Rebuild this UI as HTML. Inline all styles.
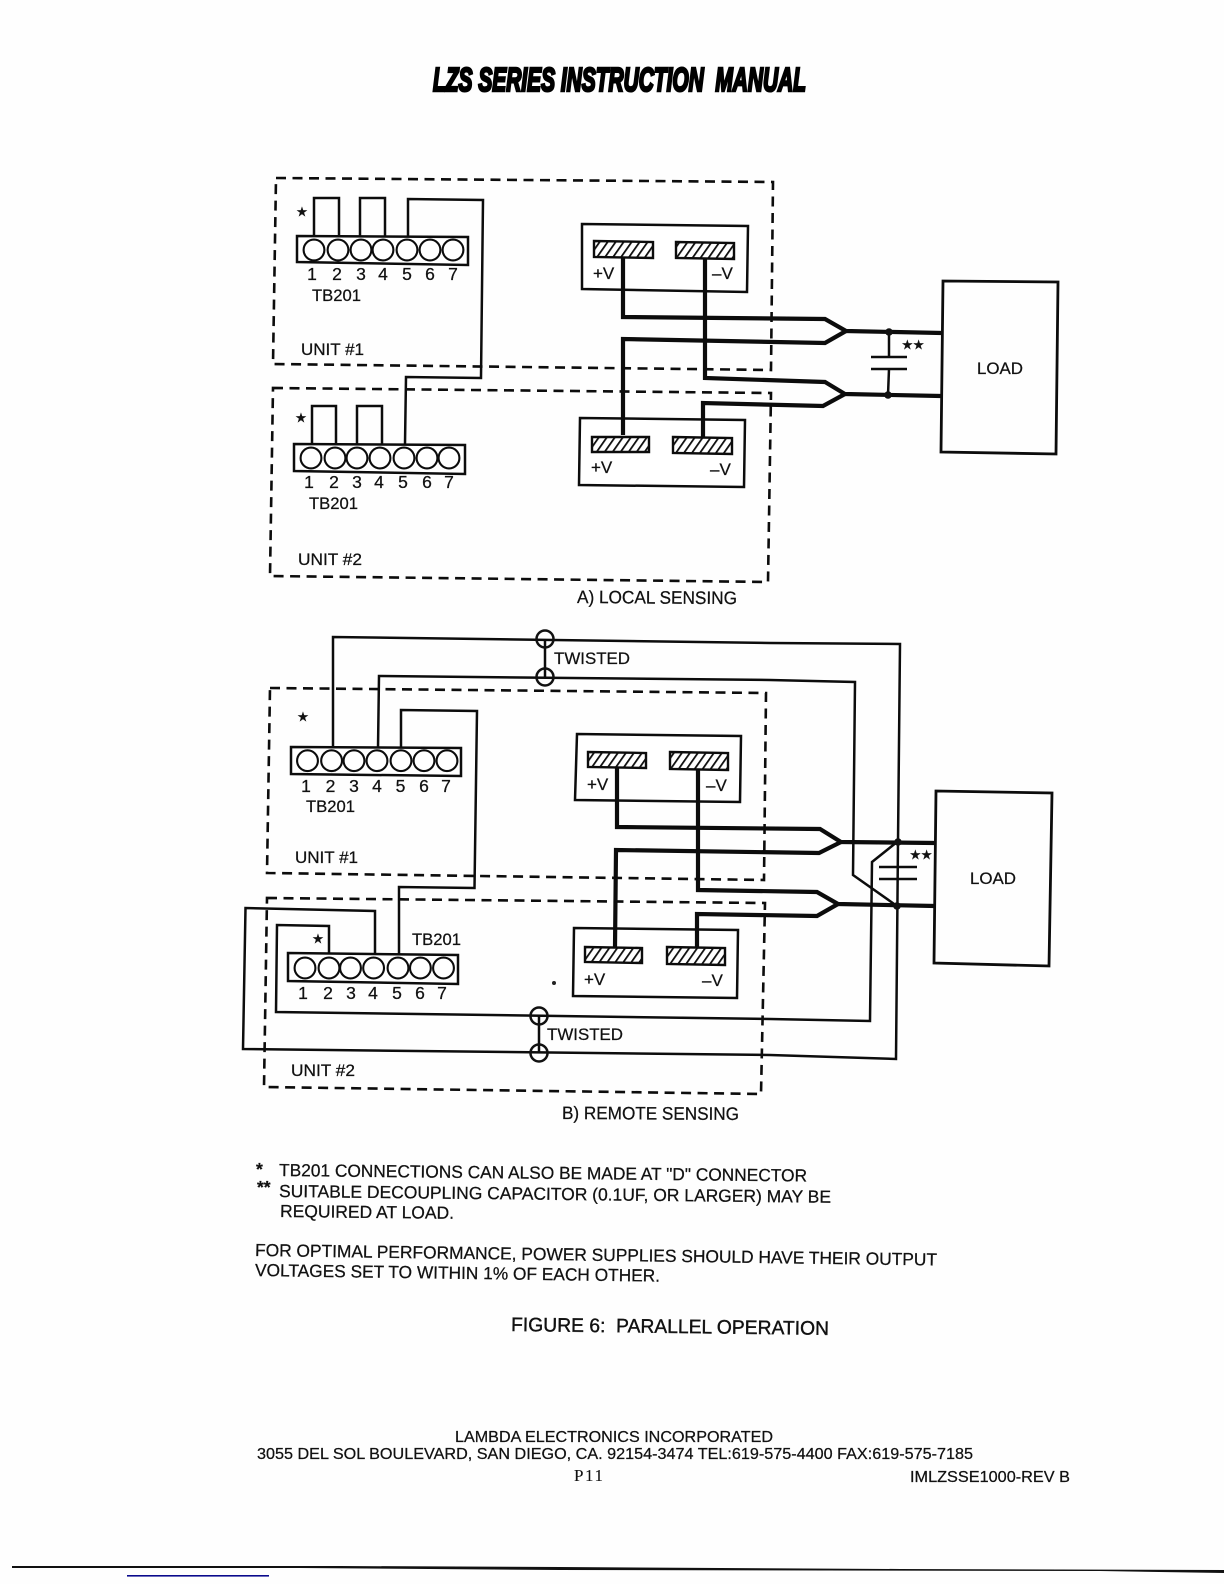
<!DOCTYPE html>
<html><head><meta charset="utf-8"><style>
html,body{margin:0;padding:0;background:#fff}
svg{display:block}
text{font-family:"Liberation Sans",sans-serif;fill:#111;stroke:#111;stroke-width:.25}
.w{fill:none;stroke:#0c0c0c;stroke-width:2.5;stroke-linejoin:miter}
.t{fill:none;stroke:#0c0c0c;stroke-width:4.2;stroke-linejoin:miter}
.d{fill:none;stroke:#0c0c0c;stroke-width:2.6;stroke-dasharray:10 6.5}
.b{fill:#fff;stroke:#0c0c0c;stroke-width:2.5}
.c{fill:#fff;stroke:#0c0c0c;stroke-width:2.1}
.h{fill:url(#hat);stroke:#0c0c0c;stroke-width:2.4}
.l{font-size:17px}
.n{font-size:17.5px;text-anchor:middle}
.s{font-size:17.5px}
.f{font-size:16px}
.st{font-family:"DejaVu Sans",sans-serif;font-size:12.5px;text-anchor:middle;stroke-width:.4}
</style></head><body>
<svg width="1224" height="1584" viewBox="0 0 1224 1584" xmlns="http://www.w3.org/2000/svg">
<defs><pattern id="hat" patternUnits="userSpaceOnUse" width="8" height="8" patternTransform="skewX(-35)"><rect width="8" height="8" fill="#fff"/><rect width="2.2" height="8" fill="#111"/></pattern></defs>
<rect width="1224" height="1584" fill="#fefefe"/>

<text x="433" y="91" font-size="33" font-weight="bold" font-style="italic" textLength="373" lengthAdjust="spacingAndGlyphs" style="fill:#000;stroke:#000;stroke-width:2.6" xml:space="preserve">LZS SERIES INSTRUCTION  MANUAL</text>

<!-- A: boxes -->
<polygon class="b" points="582,224 748,226 747,292 582,289"/>
<polygon class="b" points="580,418 745,420 744,487 579,485"/>
<polygon class="h" points="594,241 653,242 653,258 594,257"/>
<polygon class="h" points="676,242 734,243 734,259 676,258"/>
<polygon class="h" points="592,437 649,437 649,452 592,452"/>
<polygon class="h" points="673,437 732,438 732,454 673,453"/>
<polygon class="d" points="276,178 773,182 771,370 273,364"/>
<polygon class="d" points="273,388 771,393 768,582 270,576"/>

<polygon class="b" points="297,236 468,237 468,265 297,262"/>
<polygon class="b" points="294,444 465,445 465,474 294,471"/>
<g class="c"><circle cx="314" cy="250" r="10.4"/><circle cx="338" cy="250" r="10.4"/><circle cx="361" cy="250" r="10.4"/><circle cx="383" cy="250" r="10.4"/><circle cx="407" cy="250" r="10.4"/><circle cx="430" cy="250" r="10.4"/><circle cx="453" cy="250" r="10.4"/></g>
<g class="c"><circle cx="311" cy="458" r="10.4"/><circle cx="335" cy="458" r="10.4"/><circle cx="357" cy="458" r="10.4"/><circle cx="380" cy="458" r="10.4"/><circle cx="404" cy="458" r="10.4"/><circle cx="427" cy="458" r="10.4"/><circle cx="449" cy="458" r="10.4"/></g>
<polyline class="w" points="314,236 314,198 339,198 339,236"/>
<polyline class="w" points="360,236 360,198 385,198 385,236"/>
<polyline class="w" points="408,236 408,199 483,200 481,378 406,377 405,444"/>
<polyline class="w" points="312,444 312,406 336,406 336,444"/>
<polyline class="w" points="357,444 357,406 382,406 382,444"/>

<!-- A: thick -->
<polyline class="t" points="623,258 623,317 825,319 846,331 942,333"/>
<polyline class="t" points="623,435 623,339 825,343 846,331"/>
<polyline class="t" points="705,258 705,378 825,382 845,394 941,396"/>
<polyline class="t" points="703,437 703,403 823,406 845,394"/>
<polyline class="w" points="889,332 889,357"/><polyline class="w" points="889,369 888,395"/>
<line class="w" x1="871" y1="357" x2="907" y2="357"/><line class="w" x1="871" y1="369" x2="907" y2="369"/>
<circle cx="889" cy="332" r="3.8" fill="#111"/><circle cx="888" cy="395" r="3.8" fill="#111"/>
<polygon class="b" style="fill:none;stroke-width:2.8" points="943,281 1058,282 1056,454 941,452"/>

<!-- A: text -->
<text class="n" x="312" y="280">1</text><text class="n" x="337" y="280">2</text><text class="n" x="361" y="280">3</text><text class="n" x="383" y="280">4</text><text class="n" x="407" y="280">5</text><text class="n" x="430" y="280">6</text><text class="n" x="453" y="280">7</text>
<text class="n" x="309" y="488">1</text><text class="n" x="334" y="488">2</text><text class="n" x="357" y="488">3</text><text class="n" x="379" y="488">4</text><text class="n" x="403" y="488">5</text><text class="n" x="427" y="488">6</text><text class="n" x="449" y="488">7</text>
<text class="l" x="312" y="301" textLength="49" lengthAdjust="spacingAndGlyphs">TB201</text><text class="l" x="309" y="509" textLength="49" lengthAdjust="spacingAndGlyphs">TB201</text>
<text class="l" x="301" y="355" textLength="63" lengthAdjust="spacingAndGlyphs">UNIT #1</text><text class="l" x="298" y="565" textLength="64" lengthAdjust="spacingAndGlyphs">UNIT #2</text>
<text class="st" x="302" y="216">★</text><text class="st" x="301" y="422">★</text>
<text class="l" x="593" y="279">+V</text><text class="l" x="712" y="279">–V</text>
<text class="l" x="591" y="473">+V</text><text class="l" x="710" y="475">–V</text>
<text class="st" x="913" y="349" xml:space="preserve">★★</text>
<text class="l" x="977" y="374" textLength="46" lengthAdjust="spacingAndGlyphs">LOAD</text>
<text x="577" y="603" font-size="18" textLength="160" lengthAdjust="spacingAndGlyphs" transform="rotate(0.4 577 603)">A) LOCAL SENSING</text>

<!-- B: boxes -->
<polygon class="b" points="577,734 741,736 740,802 575,800"/>
<polygon class="b" points="574,928 738,930 737,998 573,996"/>
<polygon class="h" points="588,752 646,753 646,768 588,767"/>
<polygon class="h" points="670,752 728,753 728,770 670,769"/>
<polygon class="h" points="585,947 642,948 642,963 585,962"/>
<polygon class="h" points="667,947 725,948 725,965 667,964"/>
<polygon class="d" points="270,688 766,693 764,880 267,873"/>
<polygon class="d" points="267,898 765,903 761,1094 264,1087"/>
<polygon class="b" points="291,747 461,748 461,776 291,774"/>
<polygon class="b" points="288,953 458,955 458,984 288,981"/>
<g class="c"><circle cx="307.5" cy="760.7" r="10.4"/><circle cx="331.6" cy="760.7" r="10.4"/><circle cx="354" cy="760.7" r="10.4"/><circle cx="377" cy="760.7" r="10.4"/><circle cx="401" cy="760.7" r="10.4"/><circle cx="424" cy="760.7" r="10.4"/><circle cx="447" cy="760.7" r="10.4"/></g>
<g class="c"><circle cx="305" cy="968" r="10.4"/><circle cx="329" cy="968" r="10.4"/><circle cx="350.5" cy="968" r="10.4"/><circle cx="373.6" cy="968" r="10.4"/><circle cx="398" cy="968" r="10.4"/><circle cx="420.4" cy="968" r="10.4"/><circle cx="443.5" cy="968" r="10.4"/></g>
<polyline class="w" points="333,746 333,637 770,643 900,644 898,842 896,1059 770,1055 243,1049 245.5,908 375,911 375,953"/>
<polyline class="w" points="378,748 379,676 770,680 855,682 853,875 897,906"/>
<polyline class="w" points="897,842 872,862 870,1021 770,1019 276,1012 277,925 329,926 329,953"/>
<polyline class="w" points="401,747 401,710 477,711 474.5,888 399,887 399,954"/>
<line class="w" x1="545" y1="639" x2="545" y2="677"/><line class="w" x1="539" y1="1016" x2="539" y2="1053"/>
<g fill="none" stroke="#111" stroke-width="2.5"><circle cx="545" cy="639" r="8.5"/><circle cx="545" cy="677" r="8.5"/><circle cx="539" cy="1016" r="8.5"/><circle cx="539" cy="1053" r="8.5"/></g>

<polyline class="t" points="617,768 617,827 820,829 841,842 936,843"/>
<polyline class="t" points="615,947 616,850 819,853 841,842"/>
<polyline class="t" points="698,770 698,890 817,892 838,904 935,906"/>
<polyline class="t" points="697,947 697,914 817,916 838,904"/>
<line class="w" x1="879" y1="867" x2="917" y2="867"/><line class="w" x1="879" y1="879" x2="917" y2="879"/>
<circle cx="898" cy="842" r="3.8" fill="#111"/><circle cx="897" cy="906" r="3.8" fill="#111"/>
<polygon class="b" style="fill:none;stroke-width:2.8" points="936,791 1052,793 1049,966 934,963"/>

<!-- B: text -->
<text class="n" x="306" y="792">1</text><text class="n" x="330.5" y="792">2</text><text class="n" x="354" y="792">3</text><text class="n" x="377" y="792">4</text><text class="n" x="400.5" y="792">5</text><text class="n" x="424" y="792">6</text><text class="n" x="446" y="792">7</text>
<text class="n" x="303" y="999">1</text><text class="n" x="328" y="999">2</text><text class="n" x="351" y="999">3</text><text class="n" x="373" y="999">4</text><text class="n" x="397" y="999">5</text><text class="n" x="420" y="999">6</text><text class="n" x="442" y="999">7</text>
<text class="l" x="306" y="812" textLength="49" lengthAdjust="spacingAndGlyphs">TB201</text><text class="l" x="412" y="945" textLength="49" lengthAdjust="spacingAndGlyphs">TB201</text>
<text class="l" x="295" y="863" textLength="63" lengthAdjust="spacingAndGlyphs">UNIT #1</text><text class="l" x="291" y="1076" textLength="64" lengthAdjust="spacingAndGlyphs">UNIT #2</text>
<text class="st" x="303" y="721">★</text><text class="st" x="318" y="943">★</text>
<text class="l" x="587" y="790">+V</text><text class="l" x="706" y="791">–V</text>
<text class="l" x="584" y="985">+V</text><text class="l" x="702" y="986">–V</text>
<text class="st" x="921" y="859">★★</text>
<text class="l" x="970" y="884" textLength="46" lengthAdjust="spacingAndGlyphs">LOAD</text>
<text class="l" x="554" y="664" textLength="76" lengthAdjust="spacingAndGlyphs">TWISTED</text>
<text class="l" x="547" y="1040" textLength="76" lengthAdjust="spacingAndGlyphs">TWISTED</text>
<text x="562" y="1119" font-size="18" textLength="177" lengthAdjust="spacingAndGlyphs" transform="rotate(0.3 562 1119)">B) REMOTE SENSING</text>
<circle cx="554" cy="983" r="2" fill="#222"/>

<!-- notes -->
<text class="s" x="256" y="1175" font-weight="bold">*</text>
<text class="s" x="279" y="1176" textLength="528" lengthAdjust="spacingAndGlyphs" transform="rotate(0.6 279 1176)">TB201 CONNECTIONS CAN ALSO BE MADE AT "D" CONNECTOR</text>
<text class="s" x="257" y="1193" font-weight="bold">**</text>
<text class="s" x="279" y="1197" textLength="552" lengthAdjust="spacingAndGlyphs" transform="rotate(0.6 279 1197)">SUITABLE DECOUPLING CAPACITOR (0.1UF, OR LARGER) MAY BE</text>
<text class="s" x="280" y="1217" textLength="174" lengthAdjust="spacingAndGlyphs" transform="rotate(0.6 280 1217)">REQUIRED AT LOAD.</text>
<text class="s" x="255" y="1256" textLength="682" lengthAdjust="spacingAndGlyphs" transform="rotate(0.8 255 1256)">FOR OPTIMAL PERFORMANCE, POWER SUPPLIES SHOULD HAVE THEIR OUTPUT</text>
<text class="s" x="255" y="1276" textLength="405" lengthAdjust="spacingAndGlyphs" transform="rotate(0.8 255 1276)">VOLTAGES SET TO WITHIN 1% OF EACH OTHER.</text>
<text x="511" y="1331" font-size="19.5" textLength="318" lengthAdjust="spacingAndGlyphs" transform="rotate(0.7 511 1331)" xml:space="preserve" style="stroke-width:.4">FIGURE 6:  PARALLEL OPERATION</text>
<text class="f" x="455" y="1442" textLength="318" lengthAdjust="spacingAndGlyphs">LAMBDA ELECTRONICS INCORPORATED</text>
<text class="f" x="257" y="1459" textLength="716" lengthAdjust="spacingAndGlyphs">3055 DEL SOL BOULEVARD, SAN DIEGO, CA. 92154-3474 TEL:619-575-4400 FAX:619-575-7185</text>
<text x="574" y="1481" font-size="17" textLength="29" style="font-family:'Liberation Serif',serif;stroke-width:.1">P11</text>
<text class="f" x="910" y="1482" textLength="160" lengthAdjust="spacingAndGlyphs">IMLZSSE1000-REV B</text>

<polygon fill="#111" points="12,1566 340,1566 560,1567 900,1569 1224,1570 1224,1573 1100,1571 560,1570 300,1568 12,1568"/>
<rect x="127" y="1575" width="142" height="1.6" fill="#0a0a8c"/>
</svg>
</body></html>
